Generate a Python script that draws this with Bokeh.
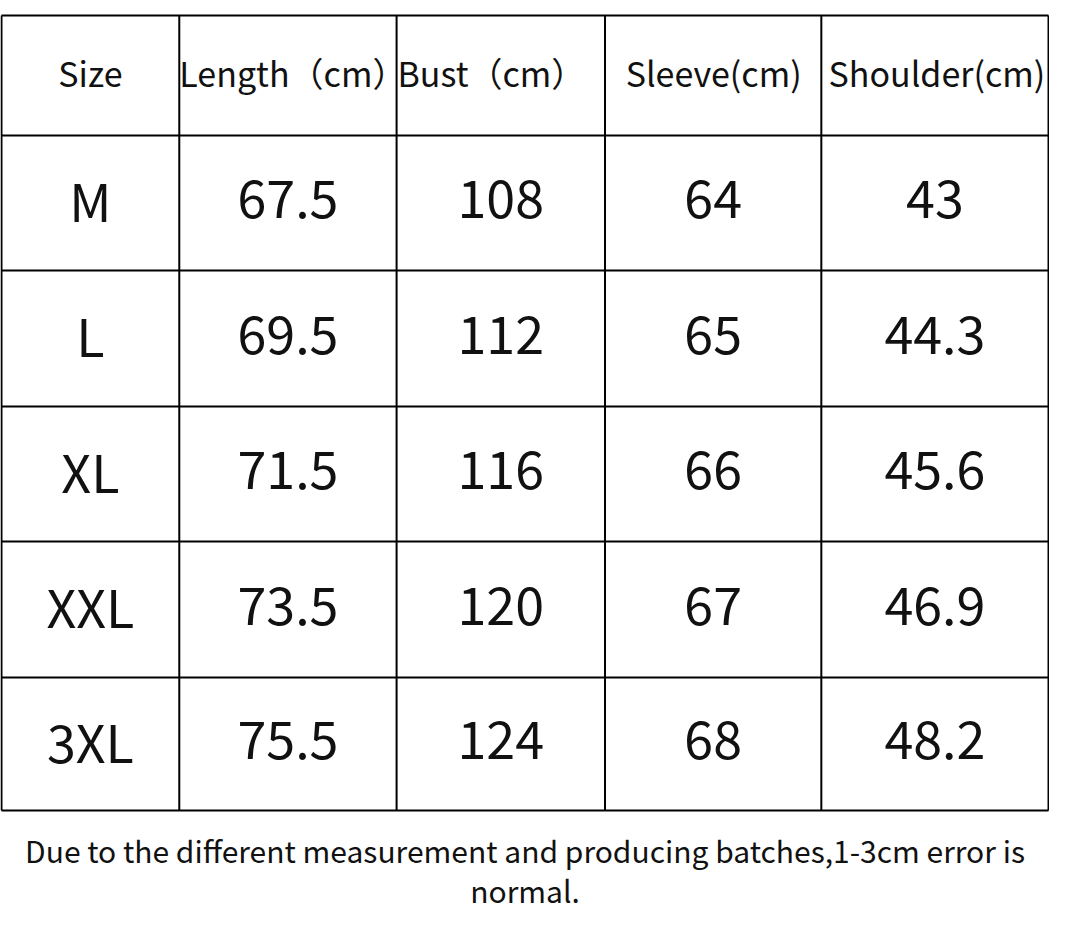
from bokeh.plotting import figure
from bokeh.models import ColumnDataSource, Range1d
from bokeh.core.properties import value
from bokeh.embed import file_html
from bokeh.resources import INLINE

headers = ["Size", "Length（cm）", "Bust（cm）", "Sleeve(cm)", "Shoulder(cm)"]
sizes = ["M", "L", "XL", "XXL", "3XL"]
length = ["67.5", "69.5", "71.5", "73.5", "75.5"]
bust = ["108", "112", "116", "120", "124"]
sleeve = ["64", "65", "66", "67", "68"]
shoulder = ["43", "44.3", "45.6", "46.9", "48.2"]
note = ["Due to the different measurement and producing batches,1-3cm error is",
        "normal."]

# table layout, in page pixels
col_edges = [1, 181, 401, 612, 831, 1061]
row_edges = [15, 135, 270, 406, 541, 677, 810]
header_x = [91, 296, 497, 722, 948]
FONT = "Noto Sans CJK SC"

p = figure(width=1049, height=925, output_backend="svg", toolbar_location=None,
           x_range=Range1d(0, 1062), y_range=Range1d(925, 0), min_border=0)
p.axis.visible = False
p.grid.visible = False
p.outline_line_color = None
p.background_fill_color = "white"

# grid lines
top, bottom = row_edges[0], row_edges[-1]
left, right = col_edges[0], col_edges[-1]
p.segment(x0=col_edges, x1=col_edges, y0=[top] * len(col_edges), y1=[bottom] * len(col_edges),
          line_color="black", line_width=2)
p.segment(x0=[left] * len(row_edges), x1=[right] * len(row_edges), y0=row_edges, y1=row_edges,
          line_color="black", line_width=2)

# header (nudged up a little, the glyphs sit low with this font)
hy = (row_edges[0] + row_edges[1]) / 2 - 3
p.text(x=header_x, y=[hy] * len(headers), text=headers, text_align="center",
       text_baseline="middle", text_font=value(FONT), text_font_size="34px",
       text_color="#111111")

# body cells
centers = [(a + b) / 2 for a, b in zip(col_edges[:-1], col_edges[1:])]
rows_y = [(a + b) / 2 - 4 for a, b in zip(row_edges[1:-1], row_edges[2:])]
xs, ys, txt = [], [], []
for j, col in enumerate([sizes, length, bust, sleeve, shoulder]):
    for i, v in enumerate(col):
        xs.append(centers[j])
        ys.append(rows_y[i])
        txt.append(v)
src = ColumnDataSource(dict(x=xs, y=ys, t=txt))
p.text(x="x", y="y", text="t", source=src, text_align="center", text_baseline="middle",
       text_font=value(FONT), text_font_size="52px", text_color="#111111")

# footnote
p.text(x=[531, 531], y=[849, 889], text=note, text_align="center", text_baseline="middle",
       text_font=value(FONT), text_font_size="30px", text_color="#111111")

open("out.html", "w").write(file_html(p, INLINE))
